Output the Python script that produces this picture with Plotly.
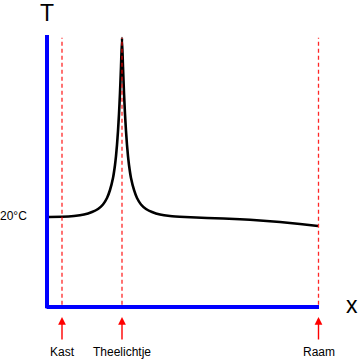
import plotly.graph_objects as go

# Curve: position along x (arbitrary units) and temperature (°C)
curve_x = [0, 1, 15, 27, 37, 45, 51, 56, 60, 63, 66, 68, 69, 70, 71, 72, 73, 74, 75,
           76, 77, 78, 79, 80, 81, 82, 84, 87, 90, 94, 99, 105, 113, 123, 138, 160,
           193, 213, 233, 253, 271]
curve_T = [19.78, 19.78, 19.82, 20.0, 20.33, 20.89, 21.56, 22.56, 24.0, 25.78, 28.44,
           31.33, 33.33, 35.78, 38.89, 42.67, 47.33, 53.11, 59.56,
           53.11, 47.33, 42.67, 38.89, 35.78, 33.33, 31.33, 28.44, 25.78, 24.0, 22.56,
           21.56, 20.89, 20.33, 20.0, 19.78, 19.56, 19.29, 19.0, 18.67, 18.22, 17.78]

# Marked locations
marker_names = ["Kast", "Theelichtje", "Raam"]
marker_x = [15, 75, 271.5]

# Axis extents and labels
x_axis_end = 272
T_axis_top = 60.2
T_marker_top = 59.6
ref_T = 20
ref_label = "20°C"
x_title = "x"
y_title = "T"

FONT = "Liberation Sans, Arial, sans-serif"

fig = go.Figure()

# the curve
fig.add_trace(go.Scatter(x=curve_x, y=curve_T, mode="lines",
                         line=dict(color="black", width=2.6, shape="spline", smoothing=0.4),
                         hoverinfo="skip", showlegend=False))

# blue axes
fig.add_trace(go.Scatter(x=[0, 0], y=[-0.5, T_axis_top], mode="lines",
                         line=dict(color="#0000ff", width=4), showlegend=False, hoverinfo="skip"))
fig.add_trace(go.Scatter(x=[-0.45, x_axis_end], y=[-0.2, -0.2], mode="lines",
                         line=dict(color="#0000ff", width=4), showlegend=False, hoverinfo="skip"))

# red dashed marker lines
for mx in marker_x:
    fig.add_trace(go.Scatter(x=[mx, mx], y=[0.3, T_marker_top], mode="lines",
                             line=dict(color="rgba(255,0,0,0.85)", width=1.3, dash="4px,3px"),
                             showlegend=False, hoverinfo="skip"))

annotations = []
for name, mx in zip(marker_names, marker_x):
    annotations.append(dict(x=mx, y=-2.45, xref="x", yref="y", text="", showarrow=True,
                            ax=0, ay=24, axref="pixel", ayref="pixel",
                            arrowhead=2, arrowsize=1.1, arrowwidth=1.4, arrowcolor="#ff0000"))
    annotations.append(dict(x=mx, y=-10.2, xref="x", yref="y", text=name, showarrow=False,
                            xanchor="center", yanchor="middle",
                            font=dict(family=FONT, size=12, color="black")))

annotations.append(dict(x=-18, y=ref_T, xref="x", yref="y", text=ref_label, showarrow=False,
                        xanchor="right", yanchor="middle",
                        font=dict(family=FONT, size=12, color="black")))
annotations.append(dict(x=0, y=(306 - 12.5) / 4.5, xref="x", yref="y", text=y_title, showarrow=False,
                        xanchor="center", yanchor="middle",
                        font=dict(family=FONT, size=23, color="black")))
annotations.append(dict(x=305, y=(306 - 305) / 4.5, xref="x", yref="y", text=x_title, showarrow=False,
                        xanchor="center", yanchor="middle",
                        font=dict(family=FONT, size=23, color="black")))

fig.update_layout(
    width=360, height=361,
    margin=dict(l=0, r=0, t=0, b=0),
    paper_bgcolor="white", plot_bgcolor="white",
    xaxis=dict(range=[-47, 313], visible=False, fixedrange=True),
    yaxis=dict(range=[-55 / 4.5, 306 / 4.5], visible=False, fixedrange=True),
    annotations=annotations,
    showlegend=False,
)

fig.write_html("out.html",
               config={"displayModeBar": False, "staticPlot": True},
               post_script="document.body.style.margin='0';document.body.style.overflow='hidden';")
